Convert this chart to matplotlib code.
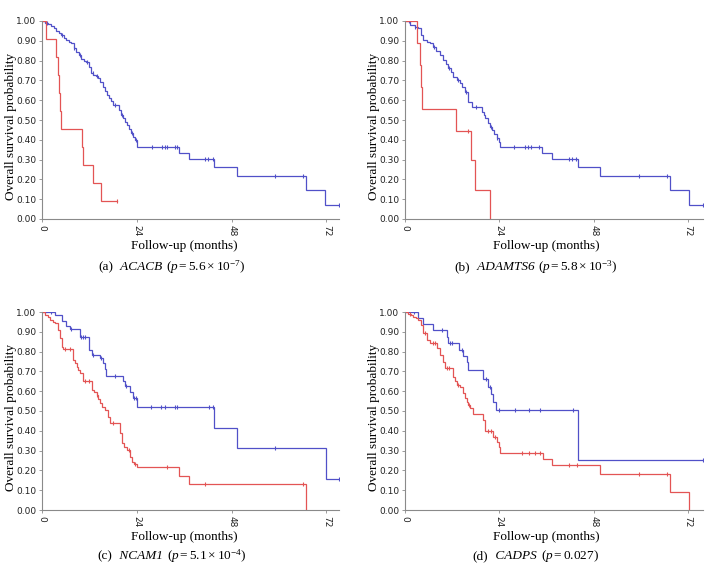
import numpy as np
import matplotlib
matplotlib.use("Agg")
import matplotlib.pyplot as plt
from matplotlib.offsetbox import TextArea, HPacker, AnnotationBbox

plt.rcParams['mathtext.fontset'] = 'custom'
plt.rcParams['mathtext.rm'] = 'Liberation Serif'
plt.rcParams['mathtext.it'] = 'Liberation Serif:italic'
plt.rcParams['mathtext.bf'] = 'Liberation Serif:bold'

# Kaplan-Meier step points (time in months, survival)
# panel (a) ACACB
ta_hi = [0, 0.8, 1.5, 2.4, 3.0, 3.6, 4.2, 4.9, 5.5, 6.2, 6.8, 7.4, 8.0, 8.7, 9.3, 9.9, 10.6, 11.2, 11.8, 12.5,
         13.0, 13.6, 14.2, 14.8, 15.4, 15.9, 16.4, 16.9, 17.5, 18.0, 19.5, 20.0, 20.5, 21.0, 21.5, 22.0, 22.5,
         23.0, 23.5, 24.0, 34.8, 37.2, 43.5, 49.3, 66.9, 71.7]
sa_hi = [1.0, 0.99, 0.985, 0.975, 0.963, 0.95, 0.94, 0.93, 0.915, 0.904, 0.895, 0.887, 0.865, 0.845, 0.83, 0.81,
         0.80, 0.795, 0.77, 0.736, 0.725, 0.72, 0.71, 0.69, 0.668, 0.645, 0.625, 0.61, 0.595, 0.576, 0.55, 0.525,
         0.51, 0.49, 0.475, 0.455, 0.433, 0.415, 0.40, 0.365, 0.335, 0.305, 0.261, 0.216, 0.146, 0.073]
end_a_hi = 75.2
cens_a_hi = [1.2, 5.0, 8.2, 9.5, 11.5, 12.8, 14.0, 18.5, 20.3, 22.7, 23.7, 27.8, 30.3, 31.1, 31.6, 33.7, 34.3,
             41.3, 42.1, 43.2, 59.0, 66.2, 75.2]
ta_lo = [0, 1.0, 3.6, 4.0, 4.2, 4.5, 4.7, 10.2, 10.5, 12.9, 15.0]
sa_lo = [1.0, 0.909, 0.818, 0.727, 0.636, 0.545, 0.455, 0.364, 0.273, 0.182, 0.091]
end_a_lo = 19.1
cens_a_lo = [19.1]

# panel (b) ADAMTS6
tb_hi = [0, 1.3, 2.5, 3.3, 4.0, 4.7, 5.5, 6.4, 7.2, 8.0, 8.9, 9.75, 10.4, 11.0, 11.7, 12.3, 13.2, 14.0, 14.6,
         15.3, 16.1, 17.0, 19.5, 20.0, 20.4, 21.2, 21.7, 22.1, 22.7, 23.3, 23.8, 24.2, 34.9, 37.5, 43.9, 49.6,
         67.4, 72.3]
sb_hi = [1.0, 0.98, 0.97, 0.965, 0.93, 0.904, 0.895, 0.887, 0.87, 0.85, 0.828, 0.803, 0.785, 0.761, 0.74, 0.719,
         0.70, 0.685, 0.665, 0.643, 0.592, 0.567, 0.54, 0.525, 0.509, 0.483, 0.465, 0.45, 0.43, 0.408, 0.39,
         0.365, 0.335, 0.305, 0.261, 0.216, 0.146, 0.073]
end_b_hi = 75.8
cens_b_hi = [0.9, 2.6, 7.4, 11.2, 13.5, 15.5, 18.0, 22.0, 23.5, 27.8, 30.5, 31.4, 32.1, 34.2, 41.6, 42.4, 43.5,
             59.4, 66.6, 75.8]
tb_lo = [0, 3.1, 3.7, 4.1, 4.3, 13.0, 16.9, 17.7, 21.6]
sb_lo = [1.0, 0.889, 0.778, 0.667, 0.556, 0.444, 0.296, 0.148, 0.0]
end_b_lo = 21.6
cens_b_lo = [15.9]

# panel (c) NCAM1
tc_hi = [0, 3.4, 5.0, 6.0, 7.1, 9.6, 12.0, 12.6, 14.7, 15.5, 16.0, 16.3, 20.6, 21.0, 22.3, 23.0, 24.0, 43.6,
         49.4, 71.8]
sc_hi = [1.0, 0.985, 0.955, 0.93, 0.913, 0.875, 0.808, 0.785, 0.766, 0.74, 0.71, 0.678, 0.652, 0.626, 0.595,
         0.566, 0.52, 0.414, 0.311, 0.156]
end_c_hi = 75.2
cens_c_hi = [2.4, 7.3, 9.9, 10.4, 10.9, 13.0, 15.0, 18.5, 21.3, 23.3, 23.7, 27.7, 30.2, 31.2, 33.7, 34.1, 42.3,
             43.2, 59.0, 75.2]
tc_lo = [0, 0.8, 1.5, 2.0, 2.7, 3.3, 4.1, 4.6, 5.0, 5.4, 7.9, 8.4, 8.8, 9.2, 9.6, 10.3, 12.6, 13.2, 13.8, 14.2,
         14.7, 15.3, 16.0, 16.6, 17.2, 19.7, 20.2, 20.8, 21.4, 22.3, 22.7, 23.3, 24.0, 34.8, 37.1, 66.8]
sc_lo = [1.0, 0.985, 0.975, 0.96, 0.95, 0.943, 0.91, 0.867, 0.825, 0.811, 0.758, 0.74, 0.724, 0.707, 0.69, 0.65,
         0.606, 0.595, 0.58, 0.56, 0.539, 0.52, 0.505, 0.47, 0.438, 0.387, 0.337, 0.32, 0.303, 0.27, 0.244, 0.23,
         0.219, 0.172, 0.13, 0.0]
end_c_lo = 66.8
cens_c_lo = [5.8, 7.0, 11.0, 11.8, 14.0, 18.0, 22.0, 23.6, 31.7, 41.3, 66.2]

# panel (d) CADPS
td_hi = [0, 3.4, 4.5, 7.2, 10.6, 10.9, 13.8, 14.8, 15.8, 16.1, 19.8, 21.0, 21.9, 22.4, 23.2, 44.1]
sd_hi = [1.0, 0.968, 0.938, 0.909, 0.875, 0.842, 0.808, 0.78, 0.745, 0.707, 0.662, 0.62, 0.585, 0.547, 0.505,
         0.2525]
end_d_hi = 75.8
cens_d_hi = [2.4, 9.5, 11.5, 12.0, 14.5, 20.5, 21.5, 23.8, 28.0, 31.6, 34.4, 42.7, 75.8]
td_lo = [0, 0.85, 1.5, 2.1, 2.8, 3.4, 4.0, 4.7, 5.5, 6.4, 8.1, 8.9, 9.6, 10.2, 12.3, 12.8, 13.2, 14.0, 14.8,
         15.2, 15.7, 16.1, 16.5, 17.4, 19.9, 20.4, 22.5, 23.3, 23.8, 24.2, 35.0, 37.3, 49.7, 67.3, 72.2]
sd_lo = [1.0, 0.99, 0.983, 0.976, 0.968, 0.96, 0.934, 0.892, 0.859, 0.842, 0.816, 0.783, 0.75, 0.716, 0.673,
         0.65, 0.631, 0.623, 0.589, 0.565, 0.547, 0.53, 0.513, 0.485, 0.455, 0.40, 0.37, 0.345, 0.32, 0.29, 0.257,
         0.226, 0.18, 0.09, 0.0]
end_d_lo = 72.2
cens_d_lo = [1.2, 5.0, 7.2, 7.6, 10.8, 11.3, 13.6, 16.3, 21.0, 21.8, 23.0, 29.8, 31.6, 33.0, 34.4, 41.7, 43.8,
             59.4, 66.6]

genes = ["ACACB", "ADAMTS6", "NCAM1", "CADPS"]
pvals = [r"5.6 \times 10^{-7}", r"5.8 \times 10^{-3}", r"5.1 \times 10^{-4}", "0.027"]
letters = ["a", "b", "c", "d"]
xticks = [0, 24, 48, 72]
yticks = [0.0, 0.1, 0.2, 0.3, 0.4, 0.5, 0.6, 0.7, 0.8, 0.9, 1.0]

panels = [
    ((ta_hi, sa_hi, end_a_hi, cens_a_hi), (ta_lo, sa_lo, end_a_lo, cens_a_lo), 75.2),
    ((tb_hi, sb_hi, end_b_hi, cens_b_hi), (tb_lo, sb_lo, end_b_lo, cens_b_lo), 75.8),
    ((tc_hi, sc_hi, end_c_hi, cens_c_hi), (tc_lo, sc_lo, end_c_lo, cens_c_lo), 75.2),
    ((td_hi, sd_hi, end_d_hi, cens_d_hi), (td_lo, sd_lo, end_d_lo, cens_d_lo), 75.8),
]

BLUE = "#5050c8"
RED = "#e35454"
W, H = 709, 568
serif = "Liberation Serif"

fig = plt.figure(figsize=(W / 100, H / 100), dpi=100)

# axes boxes in pixels: left, right, top(y=1), bottom(y=0)
boxes = [(42, 339, 21, 219), (405, 703, 21, 219), (42, 339, 312, 510), (405, 703, 312, 510)]
ylabel_x = [11, 374, 11, 374]
caption_x = [172, 536, 172, 536]
caption_y = [267, 267, 556, 556]


def draw_km(ax, t, s, end, cens, color):
    xs = np.append(t, end)
    ys = np.append(s, s[-1])
    ax.step(xs, ys, where="post", color=color, lw=0.9, solid_joinstyle="miter")
    t_arr = np.array(t)
    idx = np.searchsorted(t_arr, cens, side="right") - 1
    cy = np.array(s)[idx]
    ax.plot(cens, cy, ls="none", marker="|", ms=3.5, mew=0.8, color=color)


for i, (hi, lo, xmax) in enumerate(panels):
    l, r, top, bot = boxes[i]
    ax = fig.add_axes([l / W, 1 - bot / H, (r - l) / W, (bot - top) / H])
    draw_km(ax, *hi, BLUE)
    draw_km(ax, *lo, RED)
    ax.set_xlim(0, xmax)
    ax.set_ylim(0, 1.0)
    for side in ["top", "right"]:
        ax.spines[side].set_visible(False)
    for side in ["left", "bottom"]:
        ax.spines[side].set_color("#8a8a8a")
        ax.spines[side].set_linewidth(0.8)
    ax.set_yticks(yticks)
    ax.set_yticklabels([f"{v:.2f}" for v in yticks])
    ax.set_xticks(xticks)
    ax.set_xticklabels([str(v) for v in xticks], rotation=-90)
    ax.tick_params(axis="both", labelsize=6.5, length=2.5, width=0.6, color="#8a8a8a",
                   pad=1.5, labelcolor="#222222")
    ax.set_ylabel("Overall survival probability", family=serif, fontsize=9.5)
    ax.yaxis.label.set(ha="center", va="center")
    ax.yaxis.set_label_coords((ylabel_x[i] - l) / (r - l), 0.465)
    ax.set_xlabel("Follow-up (months)", family=serif, fontsize=9.5)
    ax.xaxis.set_label_coords(36 / xmax, -26.7 / (bot - top))
    ax.xaxis.label.set_va("center")

    # caption: "(a)  GENE (p = ...)" with the gene name in italics
    tp = dict(family=serif, fontsize=9.5)
    parts = [
        TextArea(f"({letters[i]})", textprops=tp),
        TextArea(" " + genes[i], textprops=dict(tp, style="italic")),
        TextArea(rf"($\mathit{{p}} = {pvals[i]}$)", textprops=tp),
    ]
    pack = HPacker(children=parts, align="baseline", pad=0, sep=3)
    ab = AnnotationBbox(pack, (caption_x[i] / W, 1 - caption_y[i] / H), xycoords="figure fraction",
                        frameon=False, box_alignment=(0.5, 0.5), pad=0)
    fig.add_artist(ab)

fig.savefig("out.png", dpi=100)
